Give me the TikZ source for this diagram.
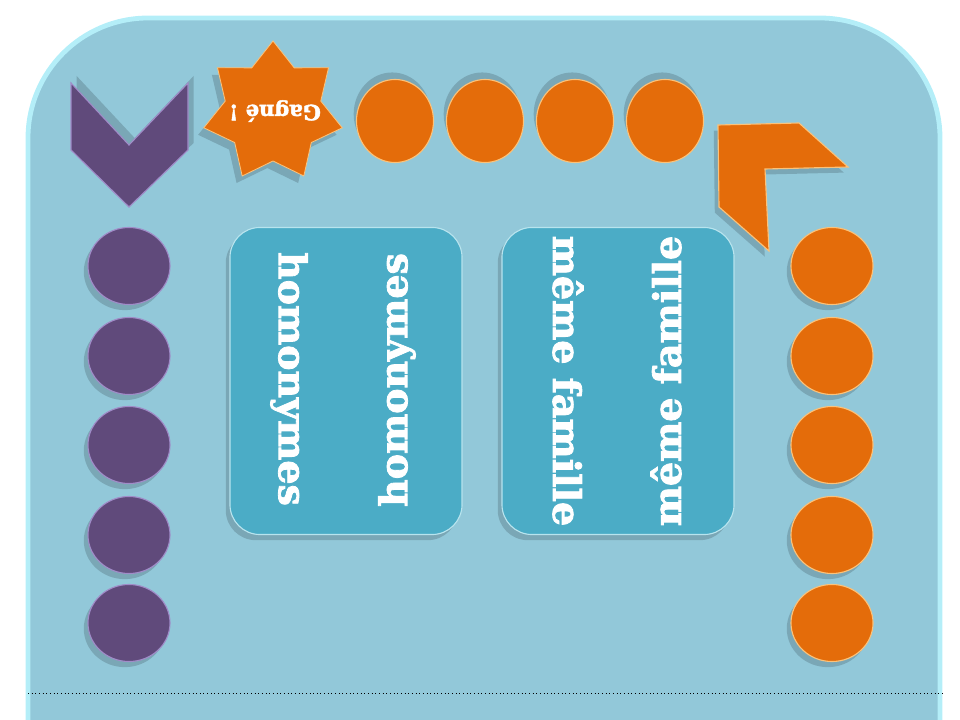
\documentclass[tikz,border=0pt]{standalone}
\usepackage{fontspec}
\setmainfont{DejaVu Serif}
\newfontfamily\cardfont[BoldFeatures={FakeBold=2.2}]{DejaVu Serif}
\usetikzlibrary{shapes.geometric,shadows}

\definecolor{boardblue}{HTML}{92C8D9}
\definecolor{boardrim}{HTML}{B4EEF8}
\definecolor{cardblue}{HTML}{4BACC6}
\definecolor{cardrim}{HTML}{B8E4EE}
\definecolor{pionviolet}{HTML}{604A7B}
\definecolor{violetrim}{HTML}{A08CC8}
\definecolor{pionorange}{HTML}{E46C0A}
\definecolor{orangerim}{HTML}{FBC27A}

\tikzset{
  pawnshadow/.style={drop shadow={shadow xshift=-3pt, shadow yshift=-4pt,
      opacity=0.16, fill=black}},
  topshadow/.style={drop shadow={shadow xshift=-2pt, shadow yshift=5pt,
      opacity=0.16, fill=black}},
  purpledot/.style={ellipse, minimum width=2.05cm, minimum height=1.925cm,
      fill=pionviolet, draw=violetrim, line width=0.8pt, pawnshadow},
  orangedot/.style={ellipse, minimum width=2.05cm, minimum height=1.925cm,
      fill=pionorange, draw=orangerim, line width=0.8pt, pawnshadow},
  topdot/.style={ellipse, minimum width=1.925cm, minimum height=2.075cm,
      fill=pionorange, draw=orangerim, line width=0.8pt, topshadow},
  cardbox/.style={rectangle, rounded corners=0.75cm, minimum width=5.8cm,
      minimum height=7.675cm, fill=cardblue, draw=cardrim, line width=0.8pt,
      pawnshadow},
  cardtext/.style={text=white, font=\cardfont\fontsize{27}{30}\selectfont\bfseries,
      inner sep=0pt}
}

\begin{document}
\begin{tikzpicture}[x=0.025cm, y=-0.025cm]
  \useasboundingbox (0,0) rectangle (960,720);

  % Board
  \begin{scope}
    \clip (0,0) rectangle (960,720);
    \draw[line width=0.12cm, draw=boardrim, fill=boardblue,
          rounded corners=3cm] (28,18) rectangle (940,900);
  \end{scope}

  \coordinate (ruleL) at (28,693);
  \coordinate (ruleR) at (945,693);
  \draw[dotted, black, line width=0.6pt] (ruleL) -- (ruleR);

  % Chevrons
  \filldraw[fill=pionviolet, draw=violetrim, line width=0.8pt,
            drop shadow={shadow xshift=4pt, shadow yshift=5pt, opacity=0.16,
            fill=black}]
    (71,83) -- (129,145) -- (188,83) -- (188,150) -- (129,207)
    -- (71,150) -- cycle;
  \filldraw[fill=pionorange, draw=orangerim, line width=0.8pt, pawnshadow]
    (718,125) -- (799,123) -- (848,167) -- (765,169) -- (769,251)
    -- (719,207) -- cycle;

  % Star
  \node[star, star points=7, star point ratio=1.45, minimum size=3.55cm,
        inner sep=0pt, fill=pionorange, draw=orangerim, line width=0.6pt,
        drop shadow={shadow xshift=-4pt, shadow yshift=-5pt, opacity=0.16,
        fill=black}]
    (gagne) at (273,112) {};
  \node[rotate=180, text=white,
        font=\cardfont\fontsize{15}{17}\selectfont\bfseries]
    (gagnetext) at (275,111) {Gagné !};

  % Top row
  \node[topdot] (t1) at (395,121) {};
  \node[topdot] (t2) at (485,121) {};
  \node[topdot] (t3) at (575,121) {};
  \node[topdot] (t4) at (665,121) {};

  % Left column
  \node[purpledot] (v1) at (129,266) {};
  \node[purpledot] (v2) at (129,356) {};
  \node[purpledot] (v3) at (129,445) {};
  \node[purpledot] (v4) at (129,535) {};
  \node[purpledot] (v5) at (129,623) {};

  % Right column
  \node[orangedot] (o1) at (832,266) {};
  \node[orangedot] (o2) at (832,356) {};
  \node[orangedot] (o3) at (832,445) {};
  \node[orangedot] (o4) at (832,535) {};
  \node[orangedot] (o5) at (832,623) {};

  % Cards
  \node[cardbox] (homcard) at (346,381) {};
  \node[cardbox] (famcard) at (618,381) {};

  \node[cardtext, rotate=-90] (hom1) at (289,379) {homonymes};
  \node[cardtext, rotate=90]  (hom2) at (397,380) {homonymes};
  \node[cardtext, rotate=-90] (fam1) at (568,381) {même famille};
  \node[cardtext, rotate=90]  (fam2) at (666,381) {même famille};

\end{tikzpicture}
\end{document}
